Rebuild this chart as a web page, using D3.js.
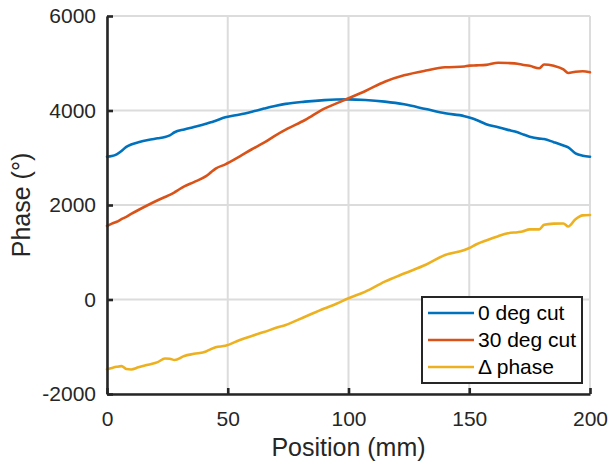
<!DOCTYPE html>
<html>
<head>
<meta charset="utf-8">
<script src="https://cdn.jsdelivr.net/npm/d3@7"></script>
<style>
  html, body { margin: 0; padding: 0; background: #fff; }
  svg { display: block; font-family: "Liberation Sans", Arial, sans-serif; }
</style>
</head>
<body>
<svg id="chart" width="610" height="466"></svg>
<script>
// ---- data ----
const positions = [0, 2, 4, 6, 8, 10, 13, 17, 21, 24, 26, 28, 32, 36, 41, 43, 45, 49, 55, 60, 65, 70, 74, 82, 90, 95, 100, 107, 115, 123, 132, 140, 148, 150, 153, 157, 162, 166, 170, 172, 175, 179, 181, 185, 189, 191, 194, 197, 200];
const cut0 = [3022, 3035, 3073, 3143, 3230, 3280, 3327, 3376, 3411, 3439, 3475, 3540, 3600, 3652, 3720, 3750, 3785, 3856, 3915, 3975, 4040, 4100, 4140, 4187, 4220, 4232, 4236, 4222, 4187, 4131, 4030, 3940, 3880, 3850, 3799, 3710, 3644, 3590, 3540, 3500, 3446, 3405, 3395, 3330, 3260, 3220, 3094, 3043, 3022];
const cut30 = [1556, 1605, 1645, 1700, 1750, 1810, 1894, 2000, 2100, 2170, 2215, 2270, 2395, 2485, 2610, 2690, 2770, 2860, 3030, 3180, 3320, 3480, 3595, 3799, 4040, 4150, 4260, 4413, 4610, 4745, 4845, 4914, 4930, 4950, 4955, 4965, 5012, 5005, 4990, 4970, 4945, 4895, 4975, 4945, 4870, 4795, 4820, 4830, 4808];
const deltaPhase = [-1478, -1450, -1425, -1410, -1470, -1480, -1435, -1380, -1325, -1250, -1255, -1280, -1195, -1150, -1100, -1050, -1010, -980, -857, -770, -690, -600, -540, -364, -190, -90, 25, 166, 377, 550, 735, 942, 1048, 1090, 1170, 1250, 1340, 1400, 1425, 1440, 1485, 1485, 1580, 1605, 1610, 1545, 1700, 1780, 1788];
const seriesNames = ["0 deg cut", "30 deg cut", "\u0394 phase"];
const seriesColors = ["#0072BD", "#D95319", "#EDB120"];
const xTicks = [0, 50, 100, 150, 200];
const yTicks = [-2000, 0, 2000, 4000, 6000];
const xLabel = "Position (mm)";
const yLabel = "Phase (\u00B0)";

// ---- layout ----
const svg = d3.select("#chart");
const L = 107, R = 590, T = 16, B = 394;
const x = d3.scaleLinear().domain([0, 200]).range([L, R]);
const y = d3.scaleLinear().domain([-2000, 6000]).range([B, T]);
const ink = "#262626";

// grid
const grid = svg.append("g").attr("stroke", "#dcdcdc").attr("stroke-width", 2);
grid.selectAll("line.v").data(xTicks).join("line").attr("class", "v")
  .attr("x1", d => x(d)).attr("x2", d => x(d)).attr("y1", T).attr("y2", B);
grid.selectAll("line.h").data(yTicks).join("line").attr("class", "h")
  .attr("y1", d => y(d)).attr("y2", d => y(d)).attr("x1", L).attr("x2", R);

// lines
const seriesData = [cut0, cut30, deltaPhase];
const line = d3.line().x((d, i) => x(positions[i])).y(d => y(d)).curve(d3.curveMonotoneX);
svg.append("g").selectAll("path").data(seriesData).join("path")
  .attr("d", d => line(d)).attr("fill", "none")
  .attr("stroke", (d, i) => seriesColors[i]).attr("stroke-width", 2.6)
  .attr("stroke-linejoin", "round").attr("stroke-linecap", "round");

// axes
const xAxis = d3.axisBottom(x).tickValues(xTicks).tickFormat(d => String(d))
  .tickSizeInner(-6).tickSizeOuter(0).tickPadding(17);
const yAxis = d3.axisLeft(y).tickValues(yTicks).tickFormat(d => String(d))
  .tickSizeInner(-6).tickSizeOuter(0).tickPadding(11);
const gx = svg.append("g").attr("transform", `translate(0,${B})`).call(xAxis);
const gy = svg.append("g").attr("transform", `translate(${L},0)`).call(yAxis);
[gx, gy].forEach(g => {
  g.select(".domain").attr("stroke", ink).attr("stroke-width", 2.6);
  g.selectAll(".tick line").attr("stroke", ink).attr("stroke-width", 2.6);
  g.selectAll(".tick text").attr("fill", ink).attr("font-size", 21)
    .attr("font-family", "Liberation Sans, Arial, sans-serif");
});

// axis labels
svg.append("text").attr("x", (L + R) / 2).attr("y", 456).attr("text-anchor", "middle")
  .attr("font-size", 25).attr("fill", ink).text(xLabel);
svg.append("text").attr("transform", `translate(30,${(T + B) / 2}) rotate(-90)`)
  .attr("text-anchor", "middle").attr("font-size", 25).attr("fill", ink).text(yLabel);

// legend
const lg = svg.append("g");
lg.append("rect").attr("x", 422).attr("y", 297).attr("width", 160).attr("height", 86)
  .attr("fill", "#fff").attr("stroke", ink).attr("stroke-width", 2);
const rows = lg.selectAll("g.row").data(seriesNames).join("g").attr("class", "row")
  .attr("transform", (d, i) => `translate(0,${313 + i * 27})`);
rows.append("line").attr("x1", 428).attr("x2", 474).attr("y1", 0).attr("y2", 0)
  .attr("stroke", (d, i) => seriesColors[i]).attr("stroke-width", 2.6);
rows.append("text").attr("x", 478).attr("y", 0).attr("dy", "0.35em")
  .attr("font-size", 21).attr("fill", "#000").text(d => d);
</script>
</body>
</html>
